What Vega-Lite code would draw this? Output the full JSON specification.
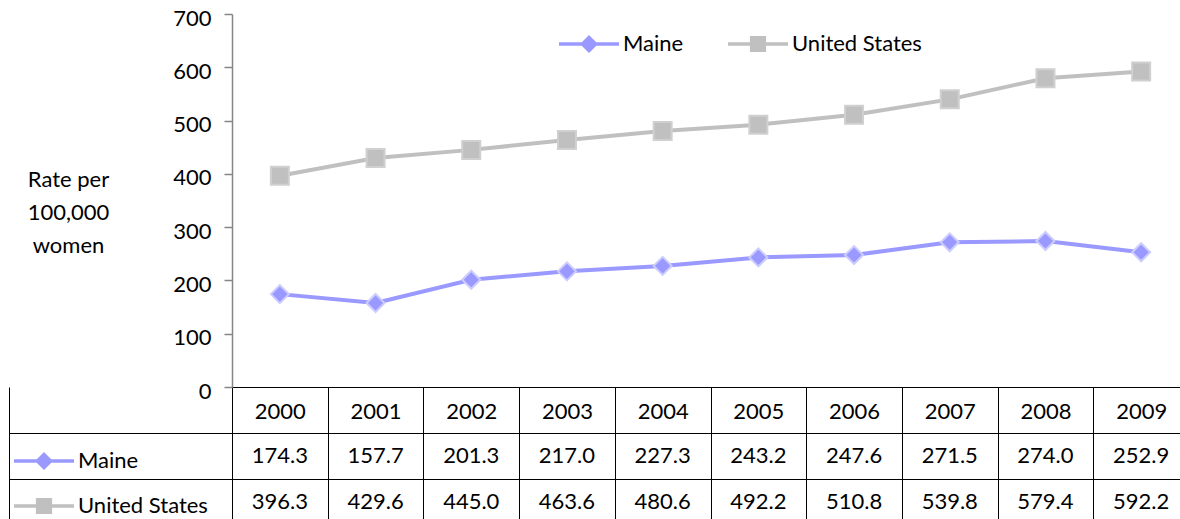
{
  "$schema": "https://vega.github.io/schema/vega-lite/v6.json",
  "padding": {"left": 8, "top": 7, "right": 0, "bottom": 0},
  "background": "white",
  "config": {
    "font": "Lato",
    "view": {"stroke": null},
    "axis": {"labelFont": "Lato", "titleFont": "Lato", "labelColor": "black", "titleColor": "black"},
    "legend": {"labelFont": "Lato", "labelColor": "black"}
  },
  "data": {
    "values": [
      {"year": 2000, "series": "Maine", "rate": 174.3},
      {"year": 2001, "series": "Maine", "rate": 157.7},
      {"year": 2002, "series": "Maine", "rate": 201.3},
      {"year": 2003, "series": "Maine", "rate": 217.0},
      {"year": 2004, "series": "Maine", "rate": 227.3},
      {"year": 2005, "series": "Maine", "rate": 243.2},
      {"year": 2006, "series": "Maine", "rate": 247.6},
      {"year": 2007, "series": "Maine", "rate": 271.5},
      {"year": 2008, "series": "Maine", "rate": 274.0},
      {"year": 2009, "series": "Maine", "rate": 252.9},
      {"year": 2000, "series": "United States", "rate": 396.3},
      {"year": 2001, "series": "United States", "rate": 429.6},
      {"year": 2002, "series": "United States", "rate": 445.0},
      {"year": 2003, "series": "United States", "rate": 463.6},
      {"year": 2004, "series": "United States", "rate": 480.6},
      {"year": 2005, "series": "United States", "rate": 492.2},
      {"year": 2006, "series": "United States", "rate": 510.8},
      {"year": 2007, "series": "United States", "rate": 539.8},
      {"year": 2008, "series": "United States", "rate": 579.4},
      {"year": 2009, "series": "United States", "rate": 592.2}
    ]
  },
  "spacing": 0,
  "bounds": "flush",
  "resolve": {
    "scale": {"color": "independent", "shape": "independent"},
    "legend": {"color": "independent", "shape": "independent"}
  },
  "vconcat": [
    {
      "width": 957,
      "height": 373,
      "encoding": {
        "x": {
          "field": "year", "type": "ordinal",
          "scale": {"paddingInner": 0, "paddingOuter": 0},
          "axis": {
            "orient": "bottom", "title": null,
            "domain": true, "domainColor": "black", "domainWidth": 1,
            "ticks": true, "tickBand": "extent", "tickSize": 138, "tickColor": "black", "tickWidth": 1,
            "labels": true, "labelFontSize": 22, "labelPadding": -114, "labelBaseline": "middle", "labelAngle": 0,
            "grid": false
          }
        },
        "y": {
          "field": "rate", "type": "quantitative",
          "scale": {"domain": [0, 700], "nice": false},
          "axis": {
            "values": [0, 100, 200, 300, 400, 500, 600, 700],
            "grid": false,
            "domain": true, "domainColor": "#868686", "domainWidth": 1.5,
            "ticks": true, "tickSize": 8, "tickColor": "#868686", "tickWidth": 1.5,
            "labelFontSize": 22, "labelPadding": 13, "labelOffset": 4,
            "title": ["Rate per", "100,000", "women"],
            "titleAngle": 0, "titleAlign": "center", "titleBaseline": "middle",
            "titleFontSize": 22, "titleFontWeight": "normal", "titleLineHeight": 33,
            "titleX": -164, "titleY": 165
          }
        }
      },
      "layer": [
        {
          "mark": {"type": "line", "strokeWidth": 4},
          "encoding": {
            "stroke": {"field": "series", "type": "nominal",
              "scale": {"domain": ["Maine", "United States"], "range": ["#9999FF", "#C0C0C0"]},
              "legend": null}
          }
        },
        {
          "mark": {"type": "point", "filled": true, "opacity": 1, "size": 324, "strokeWidth": 2},
          "encoding": {
            "fill": {"field": "series", "type": "nominal",
              "scale": {"domain": ["Maine", "United States"], "range": ["#9999FF", "#C0C0C0"]},
              "legend": null},
            "shape": {"condition": {"test": "datum.series === 'Maine'", "value": "diamond"}, "value": "square"},
            "stroke": {"condition": {"test": "datum.series === 'Maine'", "value": "#CCCCFF"}, "value": "#D0D0D0"}
          }
        },
        {
          "transform": [{"filter": "false"}],
          "mark": {"type": "point", "filled": true, "opacity": 1},
          "encoding": {
            "color": {"field": "series", "type": "nominal",
              "scale": {"domain": ["Maine", "United States"], "range": ["#9999FF", "#C0C0C0"]},
              "legend": {"title": null, "orient": "none", "direction": "horizontal", "legendX": 327, "legendY": 0,
                "symbolSize": 3600, "symbolStrokeWidth": 0, "symbolOpacity": 1, "labelFontSize": 22, "labelOffset": 4, "columnPadding": 44, "padding": 0}},
            "shape": {"field": "series", "type": "nominal",
              "scale": {"domain": ["Maine", "United States"],
                "range": ["M-1,-0.06H1V0.06H-1Z M0,-0.3L0.3,0L0,0.3L-0.3,0Z", "M-1,-0.06H1V0.06H-1Z M-0.27,-0.27H0.27V0.27H-0.27Z"]},
              "legend": {"title": null, "orient": "none", "direction": "horizontal", "legendX": 327, "legendY": 0,
                "symbolSize": 3600, "symbolStrokeWidth": 0, "symbolOpacity": 1, "labelFontSize": 22, "labelOffset": 4, "columnPadding": 44, "padding": 0}}
          }
        }
      ]
    },
    {
      "width": 957,
      "height": 138,
      "encoding": {
        "x": {
          "field": "year", "type": "ordinal",
          "scale": {"paddingInner": 0, "paddingOuter": 0},
          "axis": null
        }
      },
      "layer": [
        {
          "mark": {"type": "text", "fontSize": 22, "color": "black", "font": "Lato"},
          "encoding": {
            "y": {
              "field": "series", "type": "nominal",
              "scale": {"domain": ["Year", "Maine", "United States"], "paddingInner": 0, "paddingOuter": 0},
              "axis": {
                "title": null, "values": ["Maine", "United States"], "tickBand": "extent", "offset": 223,
                "domain": true, "domainColor": "black", "domainWidth": 1, "labels": false,
                "ticks": true, "tickSize": -223, "tickColor": "black", "tickWidth": 1,
                "grid": true, "gridColor": "black", "gridWidth": 1, "gridOpacity": 1
              }
            },
            "text": {"field": "rate", "type": "quantitative", "format": ".1f"}
          }
        },
        {
          "transform": [{"filter": "false"}],
          "mark": {"type": "point", "filled": true, "opacity": 1},
          "encoding": {
            "color": {"field": "series", "type": "nominal",
              "scale": {"domain": ["Maine", "United States"], "range": ["#9999FF", "#C0C0C0"]},
              "legend": {"title": null, "orient": "none", "direction": "vertical", "legendX": -218, "legendY": 44,
                "symbolSize": 3600, "symbolStrokeWidth": 0, "symbolOpacity": 1, "labelFontSize": 22, "labelOffset": 4, "rowPadding": 4, "padding": 0}},
            "shape": {"field": "series", "type": "nominal",
              "scale": {"domain": ["Maine", "United States"],
                "range": ["M-1,-0.06H1V0.06H-1Z M0,-0.3L0.3,0L0,0.3L-0.3,0Z", "M-1,-0.06H1V0.06H-1Z M-0.27,-0.27H0.27V0.27H-0.27Z"]},
              "legend": {"title": null, "orient": "none", "direction": "vertical", "legendX": -218, "legendY": 44,
                "symbolSize": 3600, "symbolStrokeWidth": 0, "symbolOpacity": 1, "labelFontSize": 22, "labelOffset": 4, "rowPadding": 4, "padding": 0}}
          }
        }
      ]
    }
  ]
}
